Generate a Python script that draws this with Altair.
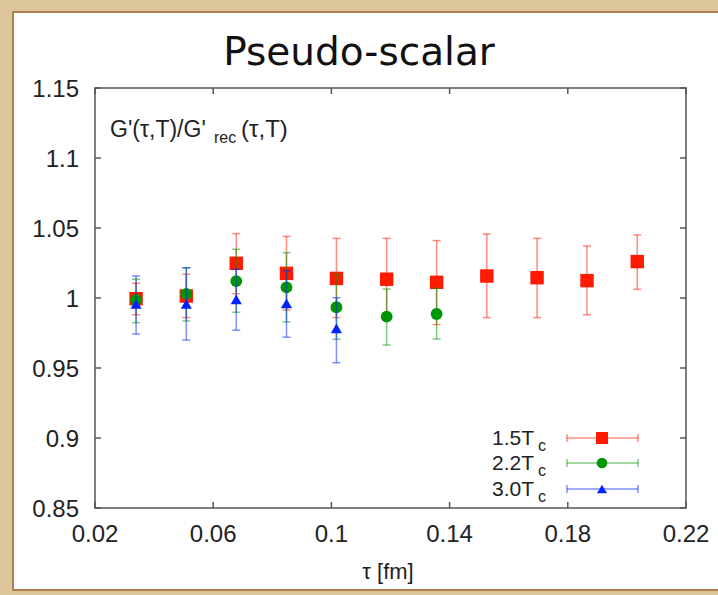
import altair as alt
import pandas as pd

# ---- data ----
tau = [0.0339, 0.0509, 0.0678, 0.0848, 0.1017, 0.1187, 0.1356, 0.1526, 0.1696, 0.1865, 0.2035]

red_val = [0.9995, 1.0014, 1.0248, 1.0176, 1.0140, 1.0134, 1.0112, 1.0157, 1.0145, 1.0124, 1.0260]
red_lo = [0.9880, 0.9860, 1.0030, 0.9914, 0.9860, 0.9845, 0.9810, 0.9860, 0.9860, 0.9880, 1.0062]
red_hi = [1.0105, 1.0170, 1.0460, 1.0440, 1.0426, 1.0426, 1.0410, 1.0457, 1.0426, 1.0371, 1.0450]

green_val = [0.9986, 1.0029, 1.0121, 1.0076, 0.9934, 0.9867, 0.9886]
green_lo = [0.9824, 0.9836, 0.9898, 0.9829, 0.9705, 0.9664, 0.9707]
green_hi = [1.0134, 1.0216, 1.0348, 1.0324, 1.0171, 1.0064, 1.0069]

blue_val = [0.9957, 0.9957, 0.9990, 0.9962, 0.9783]
blue_lo = [0.9743, 0.9700, 0.9770, 0.9720, 0.9538]
blue_hi = [1.0157, 1.0216, 1.0205, 1.0195, 1.0002]

x_ticks = [0.02, 0.06, 0.10, 0.14, 0.18, 0.22]
y_ticks = [0.85, 0.90, 0.95, 1.00, 1.05, 1.10, 1.15]

series_names = ["1.5T", "2.2T", "3.0T"]
series_colors = ["#ff1a00", "#009600", "#0022ff"]
series_shapes = ["square", "circle", "triangle-up"]
series_sizes = [180, 140, 125]

W, H = 591, 420
FONT = "Liberation Sans"
TXT = "#222"

x_scale = alt.Scale(domain=[0.02, 0.22], nice=False, zero=False)
y_scale = alt.Scale(domain=[0.85, 1.15], nice=False, zero=False)

one = pd.DataFrame({"k": [0]})
xt = pd.DataFrame({"v": x_ticks})
yt = pd.DataFrame({"v": y_ticks})

layers = []

# white paper panel
layers.append(
    alt.Chart(one).mark_rect(fill="white", stroke="#b0804f", strokeWidth=2).encode(
        x=alt.value(-82), x2=alt.value(640), y=alt.value(-76), y2=alt.value(502)
    )
)
# plot frame
layers.append(
    alt.Chart(one).mark_rect(filled=False, stroke="#555", strokeWidth=1.5).encode(
        x=alt.value(0), x2=alt.value(W), y=alt.value(0), y2=alt.value(H)
    )
)

# tick labels (drawn through the scales)
layers.append(
    alt.Chart(xt).mark_text(align="center", baseline="alphabetic", fontSize=24, font=FONT, color=TXT).encode(
        x=alt.X("v:Q", scale=x_scale, axis=None),
        y=alt.value(H + 34),
        text=alt.Text("v:Q", format=".2~f"),
    )
)
layers.append(
    alt.Chart(yt).mark_text(align="right", baseline="alphabetic", dy=8.5, fontSize=24, font=FONT, color=TXT).encode(
        y=alt.Y("v:Q", scale=y_scale, axis=None),
        x=alt.value(-16),
        text=alt.Text("v:Q", format=".3~f"),
    )
)
# x axis title
layers.append(alt.Chart(one).mark_text(text="τ [fm]", align="center", baseline="alphabetic",
                                       fontSize=22, font=FONT, color=TXT).encode(
    x=alt.value(293), y=alt.value(491)))

# inward tick marks on all four sides
tick_col = "#555"
for y0, y1 in [(H, H - 6), (0, 6)]:
    layers.append(
        alt.Chart(xt).mark_rule(color=tick_col, strokeWidth=1.5).encode(
            x=alt.X("v:Q", scale=x_scale, axis=None), y=alt.value(y0), y2=alt.value(y1)
        )
    )
for x0, x1 in [(0, 6), (W, W - 6)]:
    layers.append(
        alt.Chart(yt).mark_rule(color=tick_col, strokeWidth=1.5).encode(
            y=alt.Y("v:Q", scale=y_scale, axis=None), x=alt.value(x0), x2=alt.value(x1)
        )
    )

# data series
series_data = [(red_val, red_lo, red_hi), (green_val, green_lo, green_hi), (blue_val, blue_lo, blue_hi)]
for (vals, lo, hi), col, shp, sz in zip(series_data, series_colors, series_shapes, series_sizes):
    df = pd.DataFrame({"tau": tau[:len(vals)], "val": vals, "lo": lo, "hi": hi})
    base = alt.Chart(df)
    X = alt.X("tau:Q", scale=x_scale, axis=None)
    layers.append(base.mark_rule(color=col, opacity=0.5, strokeWidth=1.5).encode(
        x=X, y=alt.Y("lo:Q", scale=y_scale, axis=None), y2="hi:Q"))
    for f in ["lo", "hi"]:
        layers.append(base.mark_tick(orient="horizontal", color=col, opacity=0.5, size=8, thickness=1.5).encode(
            x=X, y=alt.Y(f + ":Q", scale=y_scale, axis=None)))
    layers.append(base.mark_point(shape=shp, filled=True, size=sz, color=col, opacity=1).encode(
        x=X, y=alt.Y("val:Q", scale=y_scale, axis=None)))

# in-plot y label
layers.append(alt.Chart(one).mark_text(text="G'(τ,T)/G'", align="left", baseline="alphabetic",
                                       fontSize=23, font=FONT, color=TXT).encode(
    x=alt.value(15), y=alt.value(49)))
layers.append(alt.Chart(one).mark_text(text="rec", align="left", baseline="alphabetic",
                                       fontSize=16, font=FONT, color=TXT).encode(
    x=alt.value(119), y=alt.value(55)))
layers.append(alt.Chart(one).mark_text(text="(τ,T)", align="left", baseline="alphabetic",
                                       fontSize=24, font=FONT, color=TXT).encode(
    x=alt.value(146), y=alt.value(49)))

# title
layers.append(alt.Chart(one).mark_text(text="Pseudo-scalar", align="center", baseline="alphabetic",
                                       fontSize=39, font="DejaVu Sans", color="#111").encode(
    x=alt.value(264), y=alt.value(-23)))

# custom legend
row_y = [350, 375, 401]
for name, col, shp, sz, ry in zip(series_names, series_colors, series_shapes, series_sizes, row_y):
    layers.append(alt.Chart(one).mark_text(text=name, align="right", baseline="alphabetic",
                                           fontSize=21, font=FONT, color=TXT).encode(
        x=alt.value(439), y=alt.value(ry + 7)))
    layers.append(alt.Chart(one).mark_text(text="c", align="left", baseline="alphabetic",
                                           fontSize=16, font=FONT, color=TXT).encode(
        x=alt.value(443), y=alt.value(ry + 13)))
    layers.append(alt.Chart(one).mark_rule(color=col, opacity=0.5, strokeWidth=1.5).encode(
        x=alt.value(472), x2=alt.value(543), y=alt.value(ry)))
    for xe in [472, 543]:
        layers.append(alt.Chart(one).mark_rule(color=col, opacity=0.5, strokeWidth=1.5).encode(
            x=alt.value(xe), y=alt.value(ry - 4), y2=alt.value(ry + 4)))
    layers.append(alt.Chart(one).mark_point(shape=shp, filled=True, size=sz * 0.8, color=col, opacity=1).encode(
        x=alt.value(507), y=alt.value(ry)))

chart = alt.layer(*layers).properties(
    width=W, height=H,
    autosize=alt.AutoSizeParams(type="none"),
    padding={"left": 95, "top": 88, "right": 32, "bottom": 87},
    background="#dcc59a",
).configure_view(stroke=None)

chart.save("out.html", embed_options={"renderer": "svg", "actions": False})
